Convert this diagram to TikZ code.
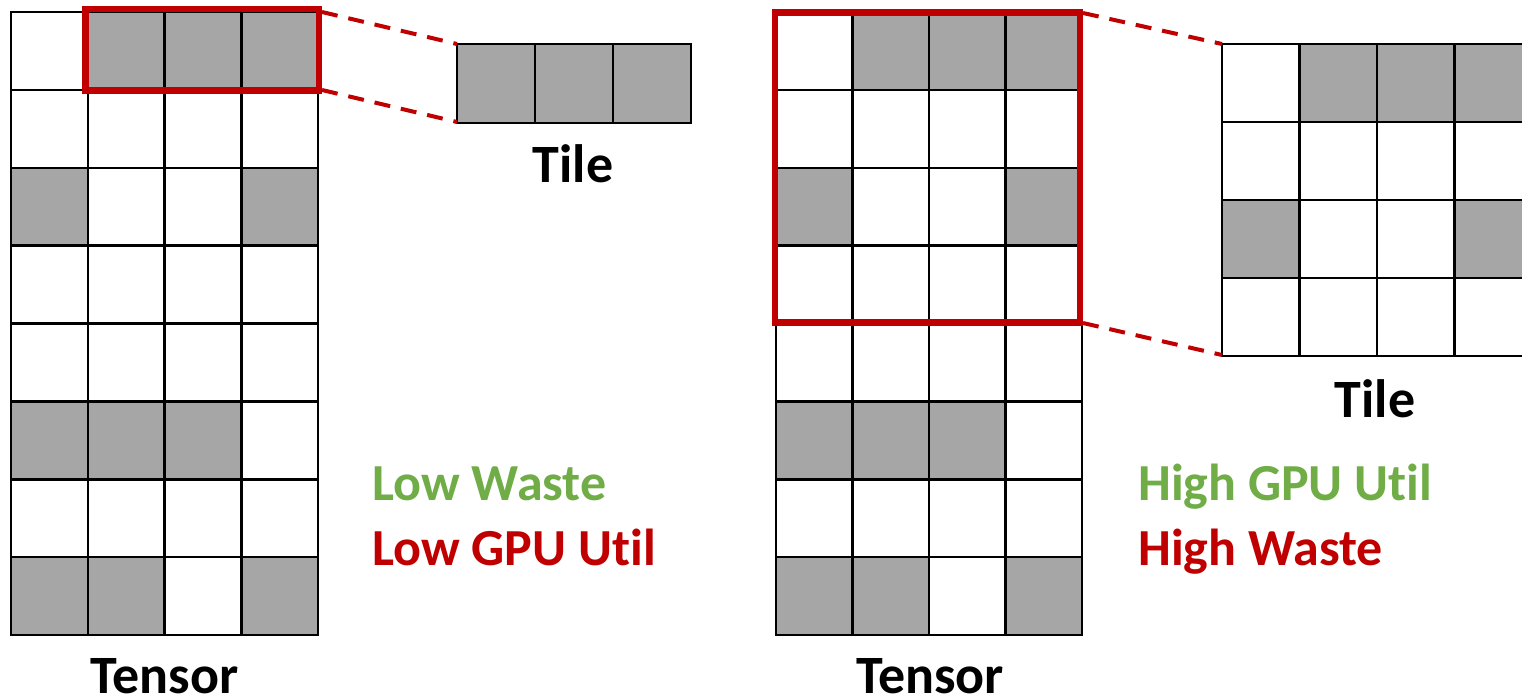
\documentclass[tikz,border=0pt]{standalone}
\usepackage{fontspec}
\setmainfont{Carlito}[Ligatures=NoCommon]
\definecolor{cellgray}{HTML}{A6A6A6}
\definecolor{hired}{HTML}{C00000}
\definecolor{okgreen}{HTML}{70AD47}

% cell grid: #1,#2 top-left corner, #3 cell width, #4 cell height, #5 rows (1 = filled)
\newcommand\drawcellgrid[5]{%
  \foreach \pat [count=\r from 0] in {#5} {%
    \foreach \v [count=\c from 0] in \pat {%
      \ifnum\v=1 \def\cellfill{cellgray}\else\def\cellfill{white}\fi
      \draw[cellline, fill=\cellfill] ({#1+\c*#3},{#2+\r*#4}) rectangle +(#3,#4);
    }%
  }%
}

\begin{document}
\begin{tikzpicture}[x=1pt, y=-1pt,
  cellline/.style={draw=black, line width=2.5pt},
  zoombox/.style={draw=hired, line width=6.5pt},
  zoomline/.style={draw=hired, line width=4pt, dash pattern=on 16pt off 11pt},
  caption/.style={inner sep=0pt, anchor=base, text depth=0pt, font=\fontsize{54}{60}\selectfont\bfseries},
  verdict/.style={inner sep=0pt, anchor=base west, font=\fontsize{52}{60}\selectfont\bfseries}]
\useasboundingbox (0,0) rectangle (1522,699);
\begin{scope}
\clip (0,0) rectangle (1522,699);

% left: tensor and 1x3 tile
\drawcellgrid{11}{12}{76.75}{77.875}{{0,1,1,1},{0,0,0,0},{1,0,0,1},{0,0,0,0},{0,0,0,0},{1,1,1,0},{0,0,0,0},{1,1,0,1}}
\drawcellgrid{457}{44}{78}{79}{{1,1,1}}

% right: tensor and 4x4 tile
\drawcellgrid{776}{12}{76.5}{77.875}{{0,1,1,1},{0,0,0,0},{1,0,0,1},{0,0,0,0},{0,0,0,0},{1,1,1,0},{0,0,0,0},{1,1,0,1}}
\drawcellgrid{1222}{44}{77.5}{78}{{0,1,1,1},{0,0,0,0},{1,0,0,1},{0,0,0,0}}
\end{scope}

% selection boxes
\draw[zoombox] (85.5,9) rectangle (319,90.5);
\draw[zoombox] (775,12.5) rectangle (1080,322.5);

% corners joined by the zoom lines
\coordinate (lsel-ne) at (322,12);
\coordinate (lsel-se) at (322,90);
\coordinate (ltile-nw) at (457,44);
\coordinate (ltile-sw) at (457,122);
\coordinate (rsel-ne) at (1083,13);
\coordinate (rsel-se) at (1083,323);
\coordinate (rtile-nw) at (1222,44);
\coordinate (rtile-sw) at (1222,355);

\draw[zoomline] (lsel-ne) -- (ltile-nw);
\draw[zoomline] (lsel-se) -- (ltile-sw);
\draw[zoomline] (rsel-ne) -- (rtile-nw);
\draw[zoomline] (rsel-se) -- (rtile-sw);

% captions
\node[caption] (ltile) at (573,182) {Tile};
\node[caption] (ltensor) at (164.5,693) {Tensor};
\node[caption] (rtile) at (1375,417) {Tile};
\node[caption] (rtensor) at (930,693) {Tensor};

\node[verdict, text=okgreen] (lwaste) at (372,500) {Low Waste};
\node[verdict, text=hired] (lutil) at (372,565) {Low GPU Util};
\node[verdict, text=okgreen] (rutil) at (1138,500) {High GPU Util};
\node[verdict, text=hired] (rwaste) at (1138,565) {High Waste};
\end{tikzpicture}
\end{document}
